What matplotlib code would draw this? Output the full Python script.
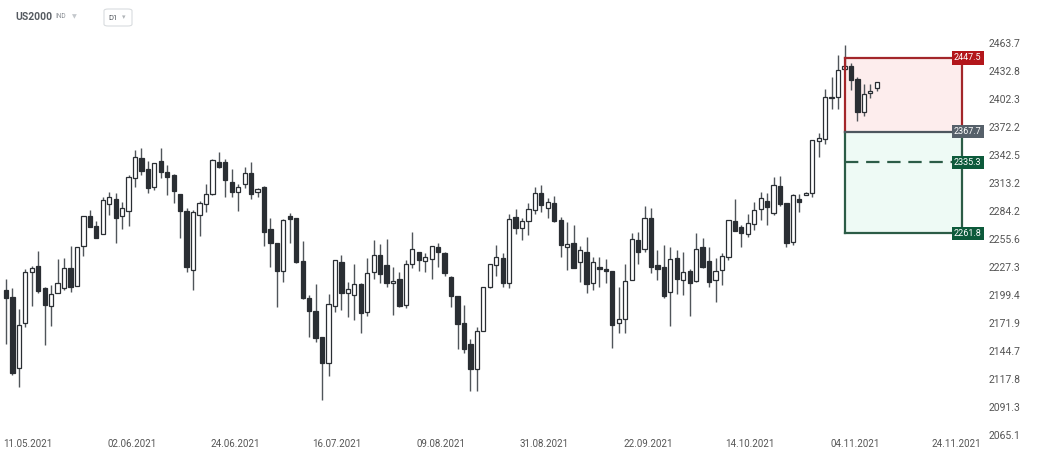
import numpy as np
import matplotlib
matplotlib.use("Agg")
import matplotlib.pyplot as plt
from matplotlib.patches import Rectangle, FancyBboxPatch
import matplotlib.transforms as mtransforms

# ---------------- data (US2000, D1) ----------------
opens = [2204.7, 2197.7, 2128.4, 2171.9, 2222.3, 2228.6, 2206.4, 2189.2, 2202.0, 2206.4,
         2226.3, 2209.0, 2248.8, 2279.4, 2269.2, 2261.0, 2291.7, 2296.9, 2279.4, 2284.5,
         2318.4, 2339.4, 2327.9, 2309.1, 2336.5, 2324.7, 2321.9, 2302.1, 2284.5, 2224.6,
         2280.4, 2291.7, 2301.8, 2335.8, 2335.8, 2314.9, 2304.5, 2312.2, 2324.3, 2303.9,
         2309.1, 2265.8, 2252.2, 2223.9, 2279.4, 2277.1, 2234.0, 2196.5, 2184.3, 2158.9,
         2133.2, 2188.9, 2232.3, 2202.0, 2199.7, 2210.4, 2183.3, 2222.9, 2239.7, 2229.6,
         2211.4, 2215.6, 2189.9, 2230.7, 2242.5, 2234.0, 2235.4, 2248.1, 2241.4, 2217.3,
         2199.0, 2172.5, 2151.5, 2127.4, 2164.9, 2207.4, 2229.6, 2237.0, 2211.4, 2278.7,
         2266.8, 2274.3, 2285.5, 2303.5, 2288.0, 2292.5, 2275.3, 2247.5, 2252.2, 2232.3,
         2243.1, 2211.4, 2227.3, 2225.6, 2223.9, 2172.5, 2176.1, 2214.6, 2254.9, 2245.5,
         2277.1, 2229.6, 2227.3, 2203.0, 2236.4, 2214.6, 2223.6, 2214.0, 2247.5, 2233.7,
         2214.6, 2224.6, 2237.7, 2274.3, 2268.5, 2261.0, 2270.9, 2286.3, 2294.9, 2282.2,
         2310.7, 2293.1, 2253.2, 2296.6, 2301.1, 2302.8, 2357.7, 2359.8, 2403.4, 2404.5,
         2435.6, 2438.6, 2424.7, 2389.0, 2408.8, 2414.3]
highs = [2215.3, 2206.4, 2185.7, 2225.3, 2228.6, 2243.8, 2208.0, 2209.7, 2235.4, 2237.0,
         2248.8, 2248.1, 2279.4, 2285.5, 2274.6, 2298.7, 2303.9, 2302.8, 2293.5, 2321.9,
         2348.1, 2349.9, 2336.8, 2334.8, 2349.9, 2332.4, 2323.0, 2302.1, 2287.3, 2285.5,
         2294.9, 2312.2, 2338.3, 2345.7, 2338.3, 2327.9, 2312.5, 2330.0, 2335.5, 2308.6,
         2310.7, 2277.7, 2252.2, 2276.0, 2282.8, 2277.1, 2254.2, 2199.7, 2210.7, 2158.9,
         2200.7, 2234.7, 2239.7, 2213.0, 2230.3, 2211.4, 2237.2, 2254.9, 2250.8, 2255.9,
         2227.9, 2222.3, 2234.7, 2262.8, 2242.5, 2242.1, 2249.1, 2251.6, 2243.1, 2218.9,
         2199.0, 2189.9, 2156.4, 2168.6, 2208.0, 2230.3, 2249.8, 2242.1, 2281.4, 2286.3,
         2277.1, 2293.1, 2309.1, 2311.4, 2297.7, 2300.4, 2278.7, 2273.6, 2270.2, 2248.8,
         2257.6, 2237.4, 2238.0, 2235.4, 2223.9, 2208.0, 2230.3, 2261.7, 2263.4, 2289.7,
         2287.3, 2244.8, 2249.8, 2247.5, 2244.8, 2242.5, 2225.6, 2262.4, 2256.6, 2248.1,
         2237.0, 2241.4, 2275.3, 2296.9, 2270.2, 2281.4, 2293.5, 2303.9, 2303.5, 2320.1,
         2320.8, 2293.1, 2302.1, 2302.1, 2304.5, 2358.7, 2365.8, 2413.2, 2426.3, 2450.8,
         2461.8, 2441.6, 2426.9, 2419.0, 2419.0, 2421.5]
lows = [2151.8, 2121.9, 2110.8, 2168.6, 2189.2, 2201.4, 2150.8, 2169.6, 2201.4, 2204.7,
        2203.0, 2209.0, 2238.7, 2267.9, 2256.6, 2261.0, 2280.4, 2252.2, 2265.8, 2269.2,
        2309.7, 2321.9, 2303.5, 2306.3, 2319.0, 2301.1, 2292.5, 2256.6, 2222.3, 2204.7,
        2259.0, 2283.2, 2301.1, 2328.9, 2299.3, 2299.3, 2284.5, 2308.3, 2296.9, 2298.7,
        2248.8, 2227.9, 2188.2, 2213.0, 2252.2, 2232.0, 2195.5, 2158.9, 2153.4, 2098.2,
        2121.2, 2183.3, 2185.0, 2178.4, 2175.1, 2162.8, 2179.1, 2215.3, 2212.0, 2207.4,
        2180.1, 2187.6, 2186.6, 2226.3, 2223.6, 2222.9, 2215.3, 2227.9, 2218.6, 2187.6,
        2146.6, 2143.4, 2107.0, 2107.0, 2164.9, 2206.7, 2218.6, 2207.4, 2206.4, 2260.7,
        2254.9, 2260.0, 2281.1, 2283.8, 2277.1, 2273.6, 2237.4, 2224.6, 2226.3, 2213.0,
        2201.4, 2204.7, 2207.4, 2211.4, 2147.6, 2162.2, 2162.2, 2214.6, 2230.3, 2242.5,
        2221.3, 2214.6, 2196.5, 2169.6, 2200.7, 2199.7, 2179.4, 2213.0, 2226.3, 2208.0,
        2192.5, 2209.7, 2234.7, 2264.4, 2248.1, 2258.3, 2265.1, 2275.3, 2270.2, 2280.4,
        2290.0, 2248.1, 2249.8, 2283.8, 2301.1, 2299.3, 2341.0, 2354.5, 2391.9, 2391.6,
        2434.2, 2412.4, 2379.5, 2384.0, 2403.7, 2411.3]
closes = [2196.5, 2124.1, 2170.2, 2222.3, 2226.9, 2203.7, 2189.9, 2200.7, 2211.4, 2226.3,
          2208.0, 2248.1, 2279.4, 2267.9, 2256.6, 2295.9, 2298.7, 2277.1, 2287.3, 2319.5,
          2340.4, 2326.4, 2308.6, 2334.1, 2325.3, 2319.5, 2305.2, 2284.5, 2227.9, 2283.8,
          2292.5, 2302.1, 2337.6, 2329.9, 2316.7, 2304.5, 2309.7, 2324.3, 2301.8, 2307.0,
          2263.4, 2251.6, 2223.6, 2275.3, 2276.0, 2233.0, 2196.5, 2184.3, 2157.3, 2133.2,
          2190.9, 2234.7, 2201.4, 2205.4, 2210.7, 2181.7, 2222.1, 2239.7, 2220.3, 2211.4,
          2213.7, 2188.9, 2230.3, 2245.8, 2234.7, 2237.4, 2249.1, 2242.5, 2221.3, 2198.7,
          2170.9, 2146.6, 2127.7, 2164.7, 2208.0, 2230.3, 2237.4, 2212.0, 2276.3, 2266.8,
          2274.6, 2286.3, 2302.8, 2290.7, 2293.5, 2274.6, 2249.8, 2250.5, 2226.9, 2244.8,
          2210.4, 2232.3, 2225.9, 2223.9, 2170.2, 2175.8, 2213.7, 2255.6, 2242.5, 2277.1,
          2227.3, 2225.6, 2198.7, 2235.4, 2215.6, 2222.3, 2211.4, 2245.5, 2227.3, 2213.0,
          2223.6, 2238.7, 2275.3, 2264.4, 2261.7, 2272.6, 2285.5, 2297.7, 2288.4, 2311.4,
          2291.4, 2251.6, 2301.1, 2294.1, 2303.5, 2358.7, 2361.2, 2405.1, 2405.1, 2434.2,
          2438.3, 2423.3, 2389.0, 2407.7, 2411.3, 2421.5]

y_ticks = [2463.7, 2432.8, 2402.3, 2372.2, 2342.5, 2313.2, 2284.2, 2255.6,
           2227.3, 2199.4, 2171.9, 2144.7, 2117.8, 2091.3, 2065.1]
x_tick_labels = ["11.05.2021", "02.06.2021", "24.06.2021", "16.07.2021", "09.08.2021",
                 "31.08.2021", "22.09.2021", "14.10.2021", "04.11.2021", "24.11.2021"]
x_tick_pos = [3.4, 19.5, 35.6, 51.3, 67.4, 83.4, 99.5, 115.3, 131.6, 147.3]

# position tool levels
stop_loss = 2447.5
entry = 2367.7
target_mid = 2335.3
take_profit = 2261.8
tool_x = (130.0, 148.2)

# ---------------- figure ----------------
W, H = 1038, 457
fig = plt.figure(figsize=(W / 100, H / 100), dpi=100)
fig.patch.set_facecolor("white")
ax_left, ax_right = 0 / W, 985 / W
ax_top, ax_bottom = 25, 437
ax = fig.add_axes([ax_left, (H - ax_bottom) / H, ax_right - ax_left, (ax_bottom - ax_top) / H])
ax.set_facecolor("white")
ax.set_yscale("log")

dark = "#2a2e33"
n = len(opens)
x = np.arange(n)
o = np.array(opens); h = np.array(highs); l = np.array(lows); c = np.array(closes)
bear = c < o

ax.vlines(x, l, h, color="#50555a", linewidth=1.0, zorder=2)
body_lo = np.minimum(o, c)
body_hi = np.maximum(o, c)
body_h = np.maximum(body_hi - body_lo, 0.8)
face = [dark if b else "white" for b in bear]
ax.bar(x, body_h, bottom=body_lo, width=0.66, color=face, edgecolor=dark,
       linewidth=0.9, zorder=3)

# position tool (risk / reward boxes)
x0, x1 = tool_x
ax.add_patch(Rectangle((x0, entry), x1 - x0, stop_loss - entry, facecolor="#fdeded",
                       edgecolor="none", zorder=1))
ax.add_patch(Rectangle((x0, take_profit), x1 - x0, entry - take_profit, facecolor="#eefaf5",
                       edgecolor="none", zorder=1))
red = "#a3262a"
green = "#2c5c47"
ax.plot([x0, x1], [stop_loss, stop_loss], color=red, lw=1.6, zorder=4)
ax.plot([x0, x0], [entry, stop_loss], color=red, lw=1.6, zorder=4)
ax.plot([x1, x1], [entry, stop_loss], color=red, lw=1.6, zorder=4)
ax.plot([x0, x0], [take_profit, entry], color=green, lw=1.6, zorder=4)
ax.plot([x1, x1], [take_profit, entry], color=green, lw=1.6, zorder=4)
ax.plot([x0, x1], [take_profit, take_profit], color=green, lw=1.6, zorder=4)
ax.plot([x0, x1], [target_mid, target_mid], color=green, lw=1.6, zorder=4,
        dashes=(6, 3.5))
ax.plot([x0, x1], [entry, entry], color="#4d565e", lw=1.6, zorder=5)

trans = mtransforms.blended_transform_factory(ax.transAxes, ax.transData)
for val, bg in [(stop_loss, "#b3161b"), (entry, "#56606a"),
                (target_mid, "#0d5a3b"), (take_profit, "#0d5a3b")]:
    ax.text(0.9825, val, f"{val:.1f}", transform=trans, ha="center", va="center",
            fontsize=6.5, color="white", family="Roboto", zorder=6,
            bbox=dict(boxstyle="square,pad=0.25", facecolor=bg, edgecolor="none"))

# axes styling
ax.set_xlim((0 - 6) / 6.45, (985 - 6) / 6.45)
ax.set_ylim(2063.7, 2484.1)
for s in ax.spines.values():
    s.set_visible(False)
ax.yaxis.tick_right()
ax.set_yticks(y_ticks)
ax.set_yticklabels([f"{v:.1f}" for v in y_ticks])
ax.yaxis.set_minor_locator(matplotlib.ticker.NullLocator())
ax.tick_params(axis="y", length=0, pad=2.5, labelsize=7.5, labelcolor="#555555")
ax.set_xticks(x_tick_pos)
ax.set_xticklabels(x_tick_labels)
ax.tick_params(axis="x", length=0, pad=1.5, labelsize=7, labelcolor="#555555")
for lab in ax.get_xticklabels() + ax.get_yticklabels():
    lab.set_family("Roboto")

# header
fig.text(15 / W, 1 - 17 / H, "US2000", fontsize=7.5, fontweight="bold", color="#555a60",
         family="Roboto", va="center", ha="left")
fig.text(55 / W, 1 - 17 / H, "IND", fontsize=4.8, color="#8a8f95", family="Roboto",
         va="center", ha="left")
fig.text(72 / W, 1 - 16.5 / H, "\u25BC", fontsize=4.5, color="#c4c8cc", family="DejaVu Sans",
         va="center", ha="left")
fig.patches.append(FancyBboxPatch((104 / W, 1 - 26 / H), 28 / W, 17 / H,
                                  boxstyle="round,pad=0,rounding_size=0.004",
                                  transform=fig.transFigure, facecolor="white",
                                  edgecolor="#d9dcdf", linewidth=0.8))
fig.text(108 / W, 1 - 17.5 / H, "D1", fontsize=5.5, color="#555a60", family="Roboto",
         va="center", ha="left")
fig.text(122 / W, 1 - 17 / H, "\u25BE", fontsize=5, color="#b0b4b8", family="DejaVu Sans",
         va="center", ha="left")

fig.savefig("out.png", dpi=100, facecolor="white")
